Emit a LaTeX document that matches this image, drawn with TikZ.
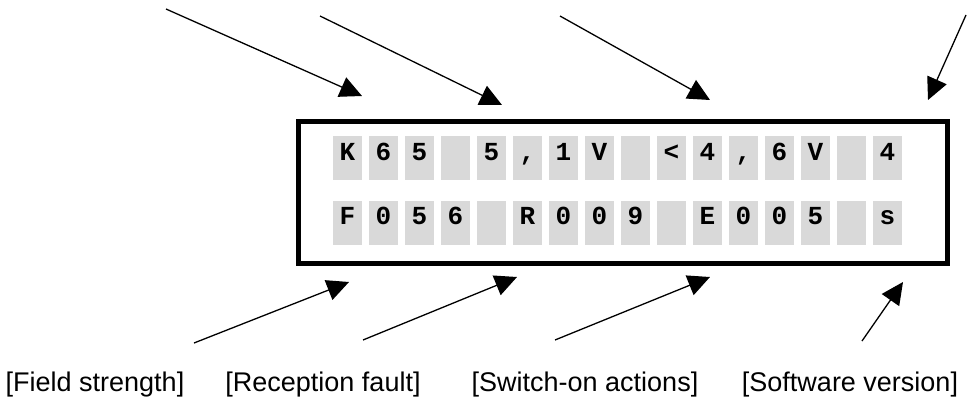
\documentclass[tikz,border=0pt]{standalone}
\usepackage{fontspec}
\setmainfont{Liberation Sans}
\newfontfamily\lcdfont{Liberation Mono}
\usetikzlibrary{arrows.meta}
\begin{document}
\begin{tikzpicture}[x=1pt,y=-1pt,
  cell/.style={fill=black!15,draw=none,minimum width=29pt,minimum height=44pt,inner sep=0pt},
  ch/.style={font=\lcdfont\bfseries\fontsize{26}{26}\selectfont,anchor=base,inner sep=0pt},
  lbl/.style={font=\fontsize{27}{30}\selectfont,anchor=base,inner sep=0pt},
  arr/.style={line width=1.3pt,-{Triangle[length=22pt,width=21pt]}}]
\useasboundingbox (0,0) rectangle (967,405);
% frame
\node[draw,line width=5pt,minimum width=649pt,minimum height=142pt,inner sep=0pt] (lcd) at (622.5,192) {};
% cells
\def\rowA{{"K","6","5"," ","5",",","1","V"," ","<","4",",","6","V"," ","4"}}
\def\rowB{{"F","0","5","6"," ","R","0","0","9"," ","E","0","0","5"," ","s"}}
\foreach \i in {0,...,15}{
  \pgfmathsetmacro\xx{347.5+36*\i}
  \pgfmathsetmacro\ca{\rowA[\i]}
  \pgfmathsetmacro\cb{\rowB[\i]}
  \node[cell] (a\i) at (\xx,158) {};
  \node[cell] (b\i) at (\xx,223) {};
  \node[ch] (ta\i) at (\xx,160) {\ca};
  \node[ch] (tb\i) at (\xx,224) {\cb};
}
% labels
\node[lbl] (l1) at (95,391) {[Field strength]};
\node[lbl] (l2) at (323,391) {[Reception fault]};
\node[lbl] (l3) at (585,391) {[Switch-on actions]};
\node[lbl] (l4) at (850,391) {[Software version]};
% arrow coordinates
\coordinate (s1) at (166,9);   \coordinate (e1) at (362,96);
\coordinate (s2) at (320,16);  \coordinate (e2) at (502,105);
\coordinate (s3) at (560,16);  \coordinate (e3) at (710,100);
\coordinate (s4) at (966,15);  \coordinate (e4) at (928,100);
\coordinate (u1) at (194,343); \coordinate (f1) at (349,282);
\coordinate (u2) at (363,340); \coordinate (f2) at (517,277);
\coordinate (u3) at (555,340); \coordinate (f3) at (710,277);
\coordinate (u4) at (862,341); \coordinate (f4) at (903,282);
\foreach \n in {1,2,3,4}{
  \draw[arr] (s\n) -- (e\n);
  \draw[arr] (u\n) -- (f\n);
}
\end{tikzpicture}
\end{document}
